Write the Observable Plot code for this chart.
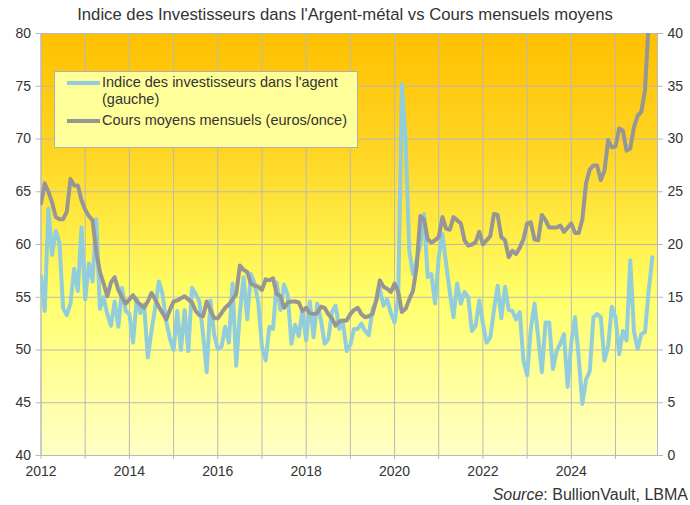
<!DOCTYPE html>
<html>
<head>
<meta charset="utf-8">
<script src="https://cdn.jsdelivr.net/npm/d3@7"></script>
<script src="https://cdn.jsdelivr.net/npm/@observablehq/plot@0.6"></script>
<style>
  body { margin: 0; background: #fff; font-family: "Liberation Sans", Arial, sans-serif; }
  #wrap { position: relative; width: 690px; height: 505px; overflow: hidden; }
  #title { position: absolute; left: 0; top: 5px; width: 690px; text-align: center; font-size: 16.7px; color: #333; line-height: 20px; }
  #chart { position: absolute; left: 0; top: 30px; }
  #legend { position: absolute; left: 54px; top: 71px; width: 302px; height: 75px; background: #FFFF99; border: 1px solid #b0b0b0; font-size: 14.5px; color: #333; }
  .sw { position: absolute; left: 12px; width: 33px; height: 4px; }
  .lt { position: absolute; left: 47px; line-height: 17px; white-space: nowrap; }
  #source { position: absolute; right: 2px; top: 486px; font-size: 16px; color: #333; }
</style>
</head>
<body>
<div id="wrap">
  <div id="title">Indice des Investisseurs dans l'Argent-métal vs Cours mensuels moyens</div>
  <div id="chart"></div>
  <div id="legend"></div>
  <div id="source"><i>Source</i>: BullionVault, LBMA</div>
</div>
<script>
// ---- data ----
const startYear = 2012; // first monthly observation: January 2012
const seriesNames = ["Indice des investisseurs dans l'agent (gauche)", "Cours moyens mensuels (euros/once)"];
// Investor index (left axis), monthly
const investorIndex = [
  57.0, 53.7, 63.4, 59.0, 61.3, 60.2, 54.0, 53.3, 54.4, 57.7, 55.6, 61.6,
  54.8, 58.2, 56.5, 62.4, 53.9, 55.0, 53.4, 52.3, 54.6, 52.2, 55.9, 53.7,
  53.4, 50.7, 54.9, 53.5, 54.3, 49.3, 51.8, 54.0, 56.5, 55.3, 52.7, 51.1,
  50.0, 53.7, 50.0, 53.8, 49.9, 55.9, 55.3, 54.6, 51.5, 47.9, 54.7, 51.5,
  50.1, 50.3, 52.2, 50.7, 56.3, 48.5, 53.5, 56.9, 52.9, 57.2, 56.3, 54.5,
  50.3, 49.0, 52.2, 52.0, 56.4, 53.8, 56.2, 55.2, 50.6, 52.4, 51.3, 53.8,
  50.9, 54.6, 51.2, 54.4, 52.9, 50.6, 51.0, 53.6, 54.2, 52.0, 52.6, 49.9,
  50.5, 52.0, 52.0, 52.5, 51.8, 51.4, 53.8, 54.6, 55.8, 54.2, 54.8, 53.5,
  52.6, 55.0, 75.2, 70.0, 59.4, 57.2, 58.5, 60.0, 62.9, 56.9, 57.2, 54.4,
  58.8, 61.0, 58.2, 55.5, 53.1, 56.3, 54.4, 55.5, 55.0, 51.8, 52.3, 54.7,
  52.5, 50.7, 51.2, 53.8, 56.1, 53.0, 56.0, 53.8, 53.7, 52.9, 53.6, 49.0,
  47.6, 52.0, 54.4, 51.2, 47.9, 52.6, 52.6, 48.2, 49.9, 50.6, 51.5, 46.5,
  50.7, 53.1, 49.3, 44.9, 47.2, 48.0, 53.1, 53.4, 53.1, 49.0, 50.4, 54.1,
  53.1, 49.6, 51.8, 50.9, 58.5, 51.8, 50.1, 51.5, 51.7, 55.6, 58.8
];
// Average monthly silver price, euros per ounce (right axis), monthly
const silverEur = [
  23.9, 25.8, 25.0, 24.0, 22.6, 22.4, 22.4, 23.1, 26.2, 25.6, 25.6, 24.2,
  23.3, 22.7, 22.3, 19.3, 17.4, 16.3, 15.1, 16.4, 16.9, 15.7, 15.0, 14.4,
  14.8, 15.2, 14.6, 14.3, 14.0, 14.6, 15.4, 14.8, 14.1, 13.5, 12.9, 13.8,
  14.6, 14.7, 14.9, 15.1, 14.8, 14.5, 13.7, 13.3, 13.2, 14.6, 13.8, 13.0,
  13.0, 13.5, 14.0, 14.3, 14.8, 15.3, 18.0, 17.6, 17.4, 16.3, 16.1, 16.0,
  15.7, 16.7, 16.6, 16.8, 15.3, 15.1, 14.0, 14.5, 14.6, 14.6, 14.5, 13.7,
  14.0, 13.5, 13.4, 13.5, 14.1, 14.0, 13.4, 13.0, 12.3, 12.7, 12.8, 12.8,
  13.4, 13.8, 14.0, 13.4, 13.1, 13.2, 13.4, 14.7, 16.6, 16.0, 15.8, 15.5,
  16.3, 15.5, 13.6, 13.9, 14.8, 15.6, 17.9, 22.7, 22.4, 20.5, 20.2, 20.4,
  20.7, 22.6, 21.5, 21.4, 22.6, 22.3, 22.0, 20.4, 19.9, 20.0, 20.2, 21.2,
  20.0, 20.4, 20.8, 22.9, 22.8, 20.7, 20.4, 18.8, 19.4, 19.1, 19.7, 20.5,
  22.0, 22.1, 20.5, 20.4, 22.8, 22.3, 21.6, 21.6, 21.6, 21.8, 21.2, 21.6,
  22.0, 21.1, 21.1, 22.4, 25.8, 27.1, 27.5, 27.5, 26.1, 27.0, 29.9, 29.2,
  29.3, 31.0, 30.8, 28.9, 29.1, 31.1, 32.2, 32.6, 34.6, 41.0, 43.0
];
const leftTicks = [40, 45, 50, 55, 60, 65, 70, 75, 80];
const yearGrid = [2012, 2013, 2014, 2015, 2016, 2017, 2018, 2019, 2020, 2021, 2022, 2023, 2024, 2025];
const yearLabels = [2012, 2014, 2016, 2018, 2020, 2022, 2024];
const rightOffset = 40; // right axis 0..40 shares the frame with left axis 40..80

const colors = ["#92CDDC", "#969696"];

// ---- build rows ----
const investorRows = investorIndex.map((v, i) => ({date: startYear + i / 12, value: v}));
const silverRows = silverEur.map((v, i) => ({date: startYear + i / 12, value: v}));

const gridColor = "#b9b9b9";
const textColor = "#333";

const chart = Plot.plot({
  width: 690,
  height: 455,
  marginLeft: 40.5,
  marginRight: 33,
  marginTop: 3,
  marginBottom: 30,
  x: {domain: [2012, 2025.95]},
  y: {domain: [40, 80]},
  style: {fontFamily: "'Liberation Sans', Arial, sans-serif", fontSize: "14px", color: textColor, background: "transparent", overflow: "visible"},
  marks: [
    Plot.frame({fill: "url(#bgGrad)", stroke: "none"}),
    Plot.gridX(yearGrid, {stroke: gridColor, strokeOpacity: 1, strokeWidth: 1}),
    Plot.gridY(leftTicks, {stroke: gridColor, strokeOpacity: 1, strokeWidth: 1}),
    Plot.frame({stroke: gridColor, strokeWidth: 1}),
    Plot.axisY(leftTicks, {anchor: "left", tickSize: 5, tickPadding: 5, stroke: gridColor, label: null, fill: textColor}),
    Plot.axisY(leftTicks, {anchor: "right", tickSize: 5, tickPadding: 5, stroke: gridColor, label: null, fill: textColor, tickFormat: d => String(d - rightOffset)}),
    Plot.axisX(yearGrid, {anchor: "bottom", tickSize: 4, tickPadding: 7, stroke: gridColor, label: null, fill: textColor,
      tickFormat: d => yearLabels.includes(d) ? String(d) : ""}),
    Plot.line(investorRows, {x: "date", y: "value", stroke: colors[0], strokeWidth: 4, clip: true, strokeLinejoin: "round"}),
    Plot.line(silverRows, {x: "date", y: d => d.value + rightOffset, stroke: colors[1], strokeWidth: 4, clip: true, strokeLinejoin: "round"})
  ]
});

// gradient definition for the plot background
const ns = "http://www.w3.org/2000/svg";
const defs = document.createElementNS(ns, "defs");
defs.innerHTML = `<linearGradient id="bgGrad" x1="0" y1="0" x2="0" y2="1">
  <stop offset="0%" stop-color="#FFC000"/>
  <stop offset="28%" stop-color="#FFD524"/>
  <stop offset="48%" stop-color="#FFEE48"/>
  <stop offset="62%" stop-color="#FFFF6A"/>
  <stop offset="100%" stop-color="#FFFFC6"/>
</linearGradient>`;
chart.insertBefore(defs, chart.firstChild);
document.getElementById("chart").appendChild(chart);

// legend
const legend = document.getElementById("legend");
legend.innerHTML = `
  <div class="sw" style="top:9px;background:${colors[0]}"></div>
  <div class="lt" style="top:2px">Indice des investisseurs dans l'agent<br>(gauche)</div>
  <div class="sw" style="top:47px;background:${colors[1]}"></div>
  <div class="lt" style="top:40px">${seriesNames[1]}</div>`;
</script>
</body>
</html>
